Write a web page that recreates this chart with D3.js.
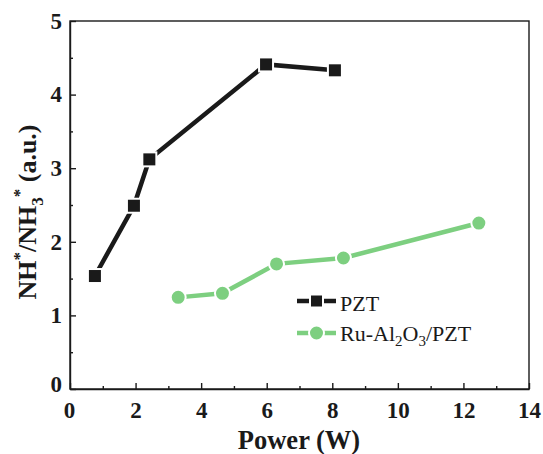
<!DOCTYPE html>
<html><head><meta charset="utf-8">
<script src="https://cdn.jsdelivr.net/npm/d3@7"></script>
<style>body{margin:0;background:#fff}svg{display:block}text{font-family:"Liberation Serif","Times New Roman",serif}</style>
</head><body><div id="chart"></div>
<script>
const pztPower = [0.76, 1.95, 2.42, 5.98, 8.08];
const pztRatio = [1.535, 2.49, 3.12, 4.41, 4.33];
const ruPower = [3.30, 4.65, 6.30, 8.34, 12.47];
const ruRatio = [1.245, 1.30, 1.70, 1.78, 2.255];
const xTicks = [0, 2, 4, 6, 8, 10, 12, 14];
const yTicks = [0, 1, 2, 3, 4, 5];

const W = 543, H = 454;
const svg = d3.select("#chart").append("svg").attr("width", W).attr("height", H);
const x = d3.scaleLinear().domain([0, 14]).range([70, 529]);
const y = d3.scaleLinear().domain([0, 5]).range([389, 21]);
const black = "#1a1a1a", green = "#7dcf80";
const FF = '"Liberation Serif","Times New Roman",serif';

// frame
svg.append("rect").attr("x", x(0)).attr("y", y(5)).attr("width", x(14) - x(0)).attr("height", y(0) - y(5))
  .attr("fill", "none").attr("stroke", black).attr("stroke-width", 1.4);

// x axis
const xAxis = d3.axisBottom(x).tickValues(xTicks).tickSizeInner(-6).tickSizeOuter(0).tickPadding(13).tickFormat(d3.format("d"));
const gx = svg.append("g").attr("transform", `translate(0,${y(0)})`).call(xAxis);
const xMinor = d3.axisBottom(x).tickValues(d3.range(1, 14, 2)).tickSize(-3).tickFormat("");
svg.append("g").attr("transform", `translate(0,${y(0)})`).call(xMinor).call(g => g.select(".domain").remove());
// y axis
const yAxis = d3.axisLeft(y).tickValues(yTicks).tickSizeInner(-6).tickSizeOuter(0).tickPadding(8).tickFormat(d3.format("d"));
const gy = svg.append("g").attr("transform", `translate(${x(0)},0)`).call(yAxis);
const yMinor = d3.axisLeft(y).tickValues(d3.range(0.5, 5, 1)).tickSize(-3).tickFormat("");
svg.append("g").attr("transform", `translate(${x(0)},0)`).call(yMinor).call(g => g.select(".domain").remove());

svg.selectAll(".domain").attr("stroke", black).attr("stroke-width", 1.4);
svg.selectAll(".tick line").attr("stroke", black).attr("stroke-width", 1.4);
svg.selectAll(".tick text").attr("font-size", 23).attr("font-weight", "bold").attr("fill", black)
  .style("font-family", FF);
gx.selectAll(".tick text").attr("dy", "0.71em");
gx.selectAll(".tick").filter(d => d === 0).select("text").attr("dx", -1);
gy.selectAll(".tick").filter(d => d === 0).select("text").attr("dy", "0.1em");

// axis titles
svg.append("text").attr("x", 299).attr("y", 449).attr("text-anchor", "middle")
  .attr("font-size", 26.5).attr("font-weight", "bold").attr("fill", black).text("Power (W)");
const yl = svg.append("text").attr("transform", "translate(36,212) rotate(-90)").attr("text-anchor", "middle")
  .attr("font-size", 26).attr("font-weight", "bold").attr("fill", black);
yl.append("tspan").text("NH");
yl.append("tspan").attr("dy", -11).attr("font-size", 17).text("*");
yl.append("tspan").attr("dy", 11).text("/NH");
yl.append("tspan").attr("dy", 7).attr("font-size", 17).text("3");
yl.append("tspan").attr("dy", -18).attr("font-size", 17).text("*");
yl.append("tspan").attr("dy", 11).text(" (a.u.)");

const line = d3.line().x(d => x(d[0])).y(d => y(d[1]));
const pzt = pztPower.map((p, i) => [p, pztRatio[i]]);
const ru = ruPower.map((p, i) => [p, ruRatio[i]]);

svg.append("path").datum(ru).attr("d", line).attr("fill", "none").attr("stroke", green).attr("stroke-width", 4.5);
svg.selectAll(".ru").data(ru).enter().append("circle").attr("cx", d => x(d[0])).attr("cy", d => y(d[1]))
  .attr("r", 7.5).attr("fill", green).attr("stroke", "#fff").attr("stroke-width", 2);

svg.append("path").datum(pzt).attr("d", line).attr("fill", "none").attr("stroke", black).attr("stroke-width", 4.5);
svg.selectAll(".pzt").data(pzt).enter().append("rect").attr("x", d => x(d[0]) - 7).attr("y", d => y(d[1]) - 7)
  .attr("width", 14).attr("height", 14).attr("fill", black).attr("stroke", "#fff").attr("stroke-width", 2);

// legend
const leg = [{c: black, shape: "sq", y: 301}, {c: green, shape: "ci", y: 333}];
leg.forEach(l => {
  svg.append("line").attr("x1", 297).attr("x2", 336).attr("y1", l.y).attr("y2", l.y).attr("stroke", l.c).attr("stroke-width", 4.5);
  if (l.shape === "sq") svg.append("rect").attr("x", 310).attr("y", l.y - 6.5).attr("width", 13).attr("height", 13).attr("fill", l.c).attr("stroke", "#fff").attr("stroke-width", 2);
  else svg.append("circle").attr("cx", 316.5).attr("cy", l.y).attr("r", 7.5).attr("fill", l.c).attr("stroke", "#fff").attr("stroke-width", 2);
});
svg.append("text").attr("x", 340).attr("y", 311).attr("font-size", 22).attr("fill", black).text("PZT");
const t2 = svg.append("text").attr("x", 340).attr("y", 341).attr("font-size", 22).attr("fill", black);
t2.append("tspan").text("Ru-Al");
t2.append("tspan").attr("dy", 5).attr("font-size", 15).text("2");
t2.append("tspan").attr("dy", -5).text("O");
t2.append("tspan").attr("dy", 5).attr("font-size", 15).text("3");
t2.append("tspan").attr("dy", -5).text("/PZT");
</script></body></html>
